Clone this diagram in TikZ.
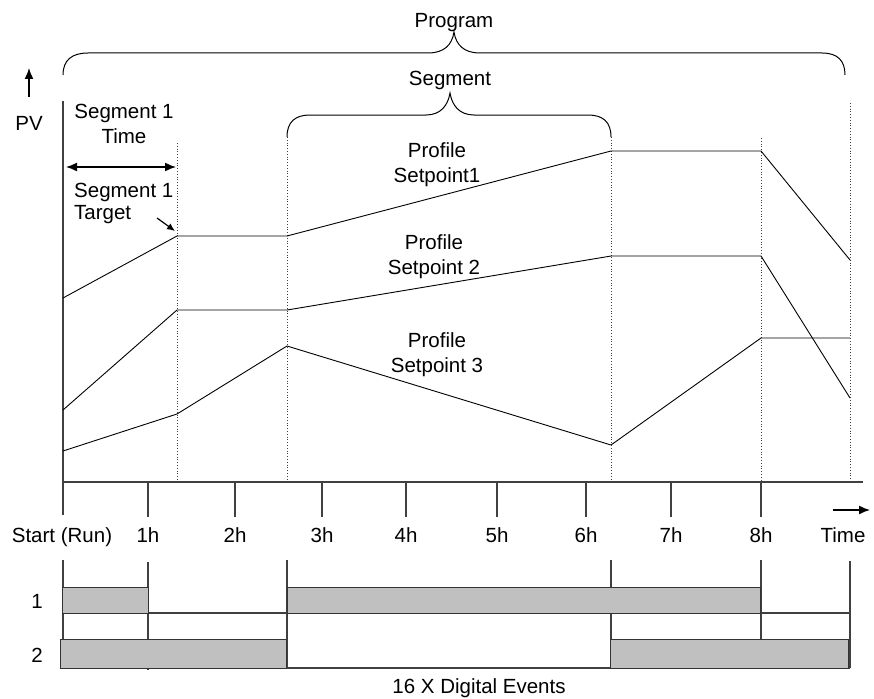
\documentclass[tikz,border=0pt]{standalone}
\usepackage{fontspec}
\setmainfont{Liberation Sans}
\usetikzlibrary{arrows.meta, positioning}
\definecolor{grisBarra}{HTML}{C0C0C0}
\definecolor{grisLinea}{HTML}{404040}
\tikzset{
  eje/.style={draw=grisLinea, line width=1.1pt},
  perfil/.style={draw=black, line width=0.9pt},
  limiteSegmento/.style={draw=grisLinea, dotted, line width=0.8pt},
  barraEvento/.style={draw=black!80, fill=grisBarra, line width=0.9pt},
  llave/.style={draw=black, line width=1pt},
  flecha/.style={-{Latex[length=11pt,width=9pt]}, line width=1.5pt},
  flechaChica/.style={-{Latex[length=8pt,width=7pt]}, line width=1.2pt},
  flechaDoble/.style={{Latex[length=11pt,width=9pt]}-{Latex[length=11pt,width=9pt]}, line width=1.5pt},
  etiqueta/.style={font=\fontsize{20.5}{25}\selectfont, align=center, inner sep=0pt},
}

\begin{document}
\begin{tikzpicture}[x=1pt, y=-1pt]
  \useasboundingbox (0,0) rectangle (874,698);

  % ejes PV y tiempo
  \coordinate (ejeArriba) at (63,101);
  \coordinate (ejeAbajo) at (63,515);
  \coordinate (origen) at (63,482);
  \coordinate (ejeFin) at (863,482);
  \draw[eje] (ejeArriba) -- (ejeAbajo);
  \draw[eje] (origen) -- (ejeFin);
  \foreach \h/\x in {1/148,2/235,3/322,4/406,5/497,6/586,7/671,8/761}{
    \coordinate (t\h) at (\x,482);
    \draw[eje] (t\h) -- ++(0,35);
    \node[etiqueta, anchor=base] (h\h) at (\x,542) {\h h};
  }
  \node[etiqueta, anchor=base] (inicio) at (62,542) {Start (Run)};
  \node[etiqueta, anchor=base] (tiempo) at (843,542) {Time};
  \coordinate (tiempoA) at (833,510);
  \coordinate (tiempoB) at (870,510);
  \draw[flecha] (tiempoA) -- (tiempoB);

  \node[etiqueta, anchor=base] (pv) at (29,130) {PV};
  \coordinate (pvA) at (29,97);
  \coordinate (pvB) at (29,68);
  \draw[flecha] (pvA) -- (pvB);

  % limites de segmento
  \foreach \nombre/\x/\y in {lim1/177/143, lim2/287/137, lim3/611/137, lim4/761/138, lim5/850/103}{
    \coordinate (\nombre) at (\x,\y);
    \draw[limiteSegmento] (\nombre) -- (\x,482);
  }

  % perfiles
  \coordinate (sp1a) at (63,298);  \coordinate (sp1b) at (177,236);
  \coordinate (sp1c) at (287,236); \coordinate (sp1d) at (611,151);
  \coordinate (sp1e) at (761,151); \coordinate (sp1f) at (850,260);
  \draw[perfil] (sp1a) -- (sp1b) -- (sp1c) -- (sp1d) -- (sp1e) -- (sp1f);
  \coordinate (sp2a) at (63,410);  \coordinate (sp2b) at (177,310);
  \coordinate (sp2c) at (287,310); \coordinate (sp2d) at (611,256);
  \coordinate (sp2e) at (761,256); \coordinate (sp2f) at (850,398);
  \draw[perfil] (sp2a) -- (sp2b) -- (sp2c) -- (sp2d) -- (sp2e) -- (sp2f);
  \coordinate (sp3a) at (63,451);  \coordinate (sp3b) at (177,414);
  \coordinate (sp3c) at (287,346); \coordinate (sp3d) at (611,445);
  \coordinate (sp3e) at (761,338); \coordinate (sp3f) at (850,338);
  \draw[perfil] (sp3a) -- (sp3b) -- (sp3c) -- (sp3d) -- (sp3e) -- (sp3f);

  \node[etiqueta] (perfil1) at (437,165) {Profile\\Setpoint1};
  \node[etiqueta] (perfil2) at (434,257) {Profile\\Setpoint 2};
  \node[etiqueta] (perfil3) at (437,355) {Profile\\Setpoint 3};

  % llaves
  \draw[llave] (63,75) .. controls (63,60) and (72,53) .. (88,53) -- (428,53)
    .. controls (444,53) and (452,45) .. (454,32)
    .. controls (456,45) and (464,53) .. (480,53) -- (822,53)
    .. controls (838,53) and (845,61) .. (845,75);
  \node[etiqueta, anchor=base] (programa) at (454,28) {Program};
  \draw[llave] (287,137) .. controls (287,122) and (295,115) .. (310,115) -- (426,115)
    .. controls (441,115) and (448,105) .. (450,93)
    .. controls (452,105) and (459,115) .. (474,115) -- (588,115)
    .. controls (603,115) and (611,122) .. (611,137);
  \node[etiqueta, anchor=base] (segmento) at (450,86) {Segment};

  % segmento 1
  \node[etiqueta] (seg1Tiempo) at (124,124) {Segment 1\\Time};
  \coordinate (dobleA) at (66,167);
  \coordinate (dobleB) at (176,167);
  \draw[flechaDoble] (dobleA) -- (dobleB);
  \node[etiqueta, align=left, anchor=west, font=\fontsize{20.5}{22}\selectfont]
    (seg1Meta) at (74,203) {Segment 1\\Target};
  \coordinate (metaA) at (157,218);
  \coordinate (metaB) at (175,231);
  \draw[flechaChica] (metaA) -- (metaB);

  % eventos digitales
  \foreach \x/\ya/\yb in {63/560/640, 148/562/670, 287/560/667, 611/560/640, 761/560/640, 850/561/668}{
    \draw[eje] (\x,\ya) -- (\x,\yb);
  }
  \draw[eje] (63,613) -- (850,613);
  \draw[eje] (60,668) -- (850,668);
  \draw[barraEvento] (62,587) rectangle (148,613);
  \draw[barraEvento] (287,587) rectangle (760,613);
  \draw[barraEvento] (60,639) rectangle (286,668);
  \draw[barraEvento] (610,639) rectangle (848,668);
  \node[etiqueta, anchor=base] (fila1) at (37,608) {1};
  \node[etiqueta, anchor=base] (fila2) at (37,662) {2};
  \node[etiqueta, anchor=base] (eventos) at (479,693) {16 X Digital Events};
\end{tikzpicture}
\end{document}
